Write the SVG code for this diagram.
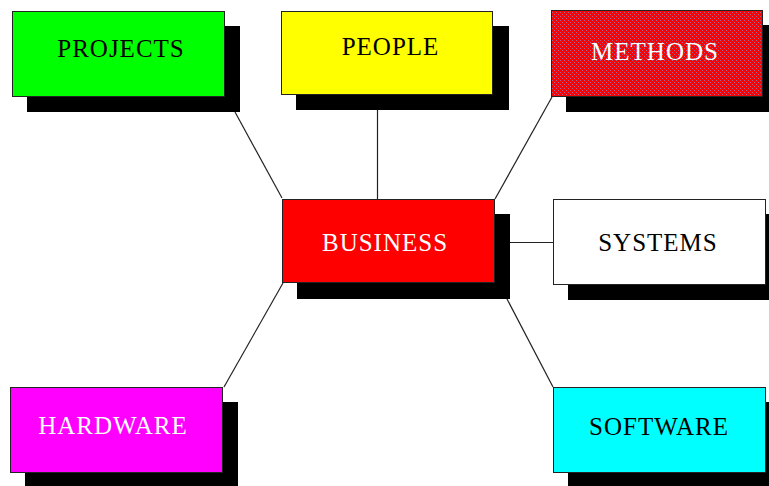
<svg xmlns="http://www.w3.org/2000/svg" width="769" height="486" viewBox="0 0 769 486">
  <defs>
    <!-- dithered crimson fill for the METHODS box -->
    <pattern id="dither" patternUnits="userSpaceOnUse" width="4" height="4">
      <rect width="4" height="4" fill="#ff0000"/>
      <rect x="0" y="0" width="1" height="1" fill="#9a6a9a"/>
      <rect x="2" y="2" width="1" height="1" fill="#9a6a9a"/>
      <rect x="1" y="1" width="1" height="1" fill="#e01040"/>
      <rect x="3" y="3" width="1" height="1" fill="#e01040"/>
    </pattern>
  </defs>
  <style>
    .shadow { fill: #000; }
    .box { stroke: #222; stroke-width: 1; }
    .label { font-family: "Liberation Serif", "Times New Roman", serif; font-size: 25px; letter-spacing: 1px; text-anchor: middle; }
    .dark { fill: #000; }
    .light { fill: #fff; }
    .link { stroke: #222; stroke-width: 1.2; fill: none; }
  </style>
  <rect width="769" height="486" fill="#fff"/>

  <g id="connectors">
    <line class="link" x1="235" y1="112" x2="282" y2="198"/>
    <line class="link" x1="377.5" y1="95" x2="377.5" y2="199"/>
    <line class="link" x1="552" y1="97" x2="495" y2="199"/>
    <line class="link" x1="510" y1="242.5" x2="553" y2="242.5"/>
    <line class="link" x1="283" y1="283" x2="224" y2="387"/>
    <line class="link" x1="507" y1="299" x2="553" y2="387"/>
  </g>

  <g id="projects">
    <rect class="shadow" x="27" y="26" width="213" height="86"/>
    <rect class="box" x="12.5" y="11.5" width="212" height="85" fill="#00ff00"/>
    <text class="label dark" x="121" y="57">PROJECTS</text>
  </g>

  <g id="people">
    <rect class="shadow" x="296" y="26" width="213" height="84"/>
    <rect class="box" x="281.5" y="11.5" width="211" height="83" fill="#ffff00"/>
    <text class="label dark" x="390.5" y="55">PEOPLE</text>
  </g>

  <g id="methods">
    <rect class="shadow" x="566" y="25" width="213" height="87"/>
    <rect class="box" x="551.5" y="10.5" width="211" height="86" fill="url(#dither)"/>
    <text class="label light" x="655" y="60">METHODS</text>
  </g>

  <g id="business">
    <rect class="shadow" x="297" y="214" width="213" height="85"/>
    <rect class="box" x="282.5" y="199.5" width="212" height="83" fill="#ff0000"/>
    <text class="label light" x="385" y="251">BUSINESS</text>
  </g>

  <g id="systems">
    <rect class="shadow" x="568" y="214" width="213" height="86"/>
    <rect class="box" x="553.5" y="199.5" width="212" height="85" fill="#ffffff"/>
    <text class="label dark" x="658" y="251">SYSTEMS</text>
  </g>

  <g id="hardware">
    <rect class="shadow" x="25" y="402" width="213" height="86"/>
    <rect class="box" x="10.5" y="387.5" width="212" height="85" fill="#ff00ff"/>
    <text class="label light" x="113" y="434">HARDWARE</text>
  </g>

  <g id="software">
    <rect class="shadow" x="568" y="402" width="213" height="86"/>
    <rect class="box" x="553.5" y="387.5" width="212" height="85" fill="#00ffff"/>
    <text class="label dark" x="659" y="435">SOFTWARE</text>
  </g>
</svg>
